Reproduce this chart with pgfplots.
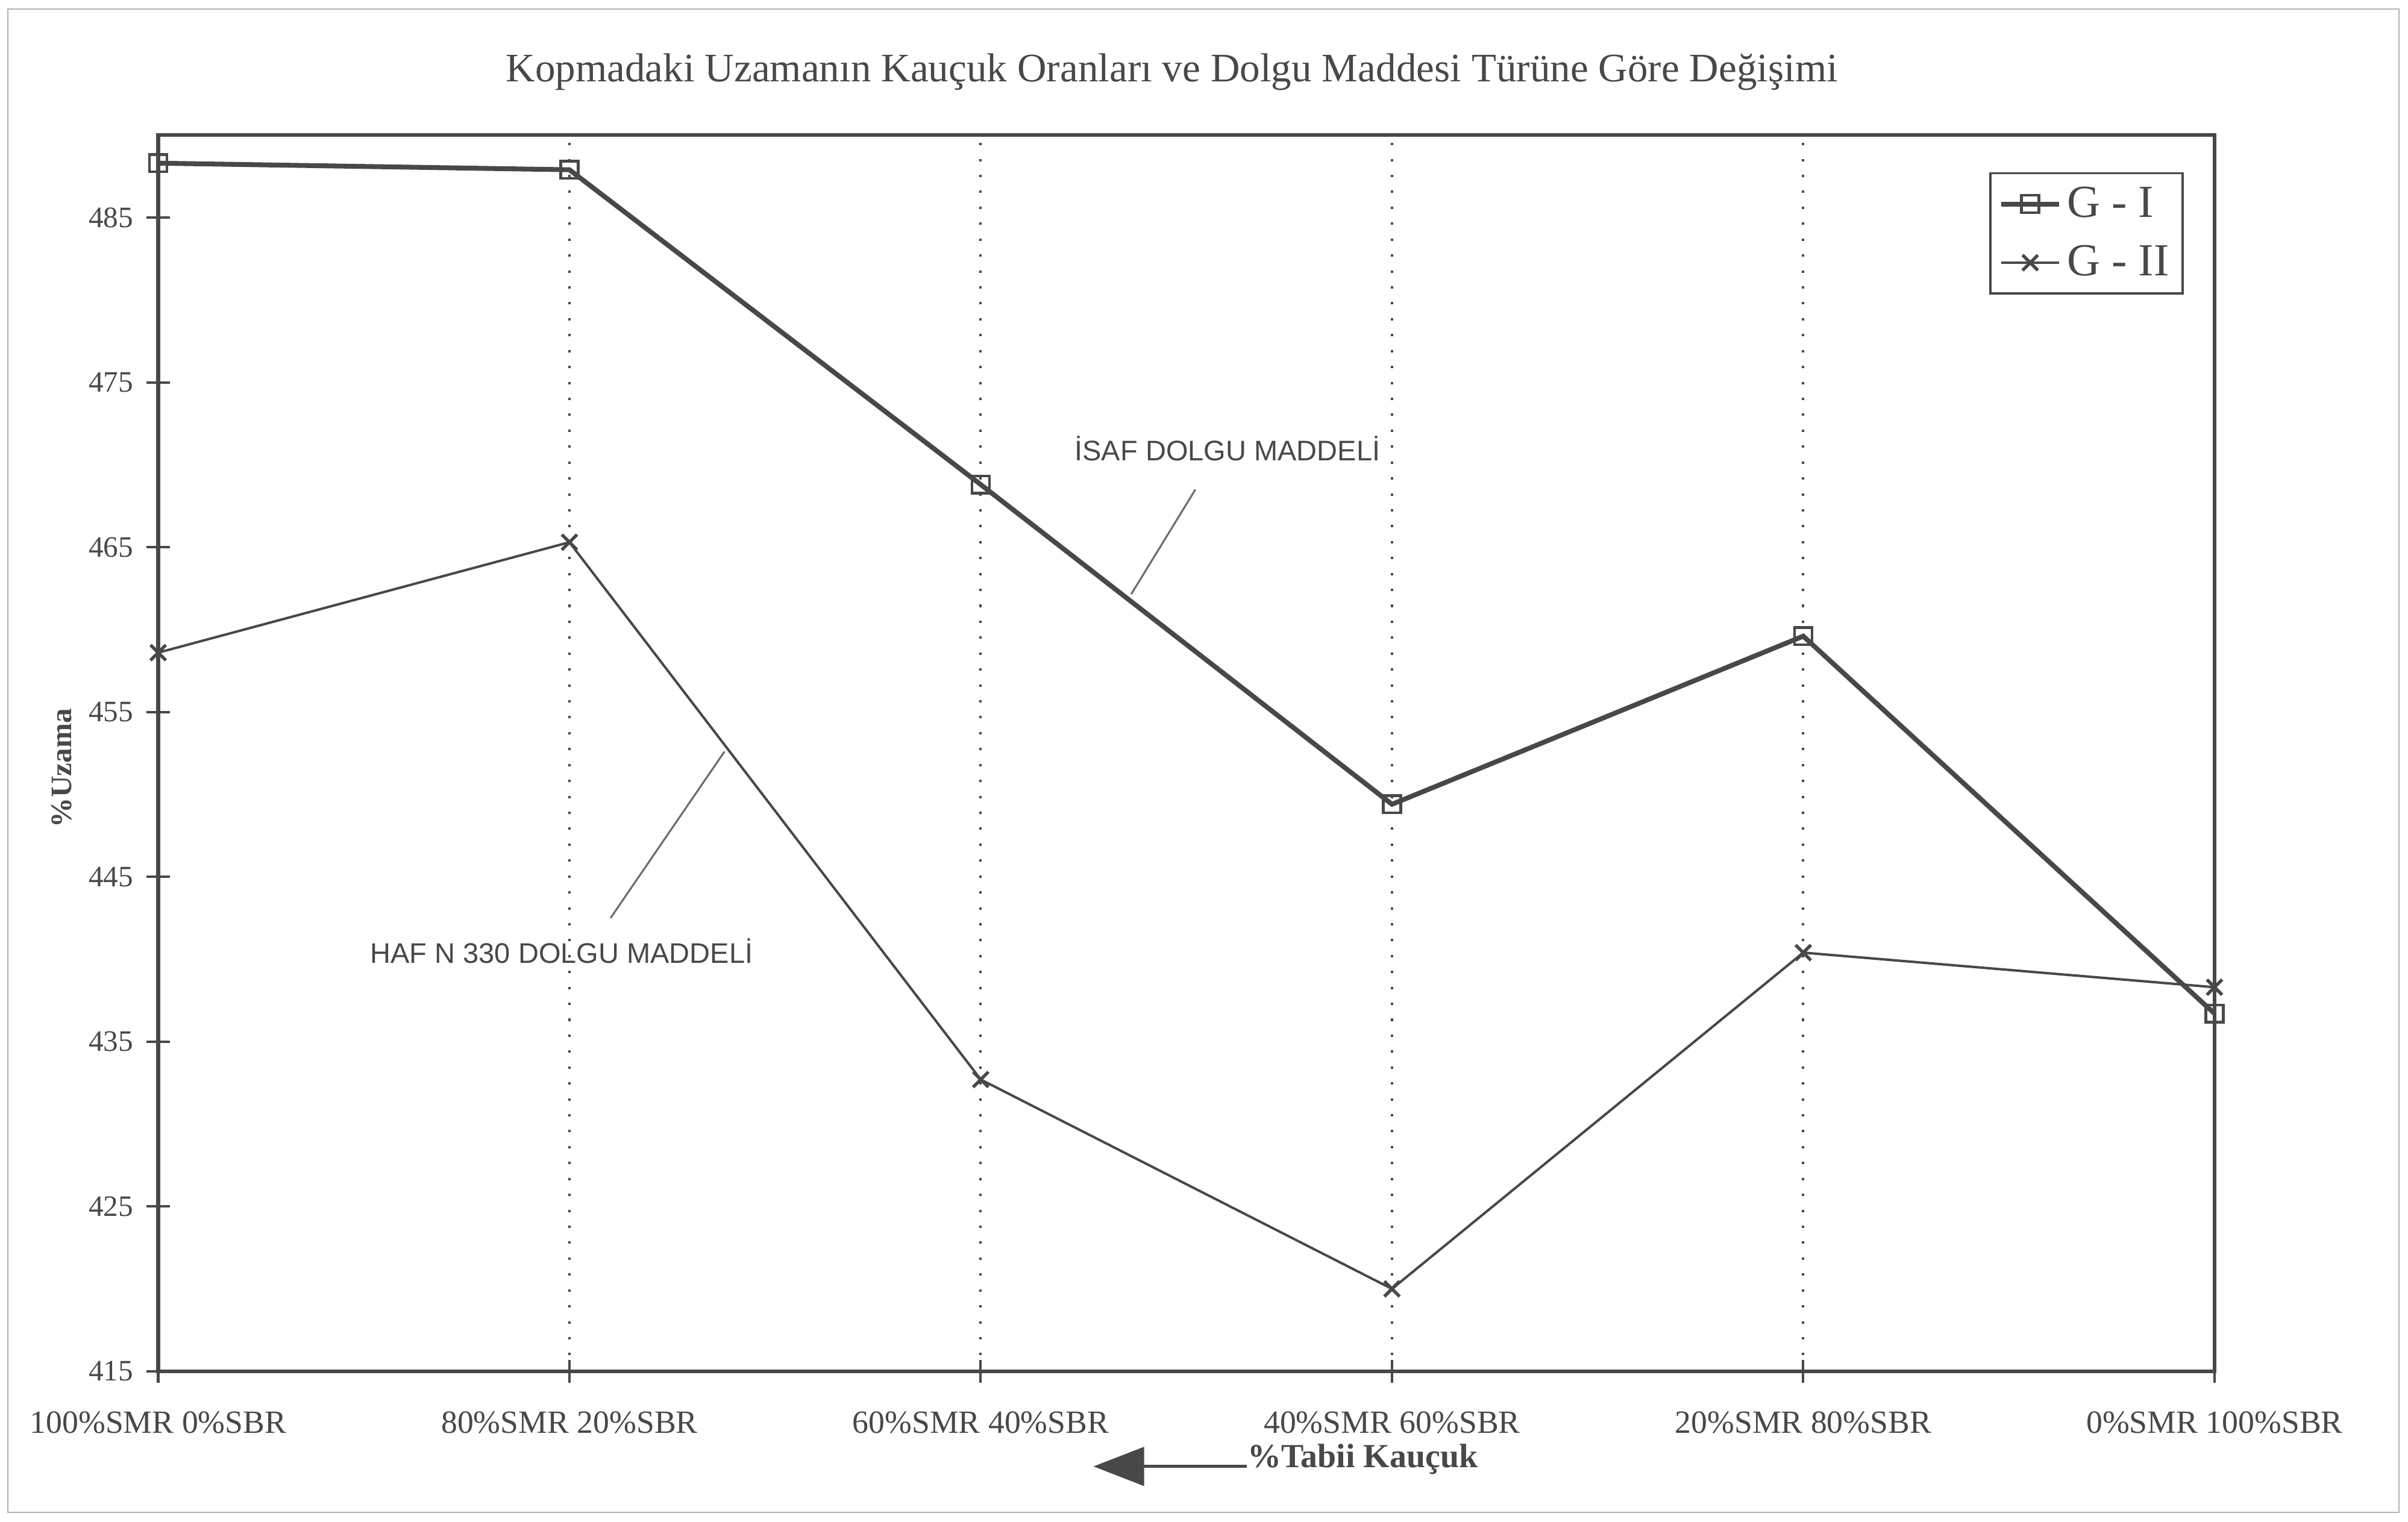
\documentclass[border=0pt]{standalone}
\usepackage{fontspec}
\setmainfont{Liberation Serif}
\newfontfamily\annfont{Liberation Sans}
\usepackage{pgfplots}
\pgfplotsset{compat=1.18}
\usetikzlibrary{arrows.meta}
\definecolor{ink}{HTML}{484848}
\begin{document}
\begin{tikzpicture}
\useasboundingbox (-2.06,-1.96) rectangle (29.3,17.86);
\draw[black!30, line width=0.5pt] (-1.96,-1.84) rectangle (29.18,17.74);
\begin{axis}[
  at={(0,0)}, anchor=south west,
  scale only axis, width=26.78cm, height=16.1cm,
  xmin=0, xmax=5, ymin=415, ymax=490,
  clip=false,
  xtick pos=bottom, ytick pos=left,
  xtick={0,1,2,3,4,5},
  xticklabels={100\%SMR 0\%SBR,80\%SMR 20\%SBR,60\%SMR 40\%SBR,40\%SMR 60\%SBR,20\%SMR 80\%SBR,0\%SMR 100\%SBR},
  ytick={415,425,435,445,455,465,475,485},
  tick align=center, major tick length=0.3cm,
  xmajorgrids,
  grid style={ink, line width=0.9pt, dash pattern=on 0.9pt off 5pt},
  axis line style={ink, line width=1.4pt},
  tick style={ink, line width=0.9pt},
  /pgf/number format/assume math mode=true,
  xticklabel style={font=\fontsize{12}{14}\selectfont, text=ink, yshift=-0.25cm},
  yticklabel style={font=\fontsize{11}{13}\selectfont, text=ink, xshift=-0.05cm},
  legend style={at={(0.985,0.970)}, anchor=north east, draw=ink, line width=0.8pt,
    font=\fontsize{17}{19}\selectfont, text=ink, inner sep=3pt, row sep=5pt},
  legend cell align=left,
  legend image code/.code={\draw[mark repeat=2,mark phase=2,#1] plot coordinates {(0cm,0cm) (0.38cm,0cm) (0.76cm,0cm)};},
]
\addplot[ink, line width=1.8pt, mark=square, mark size=3.2pt, mark options={solid, line width=1pt, fill=white}]
  coordinates {(0,488.3) (1,487.9) (2,468.8) (3,449.4) (4,459.6) (5,436.7)};
\addlegendentry{G - I}
\addplot[ink, line width=0.9pt, mark=x, mark size=4pt, mark options={solid, line width=1.2pt}]
  coordinates {(0,458.6) (1,465.3) (2,432.7) (3,420.0) (4,440.4) (5,438.3)};
\addlegendentry{G - II}

\node[font=\fontsize{15}{18}\selectfont, text=ink] at (rel axis cs:0.493,1.051)
  {Kopmadaki Uzamanın Kauçuk Oranları ve Dolgu Maddesi Türüne Göre Değişimi};
\node[rotate=90, font=\bfseries\fontsize{11}{13}\selectfont, text=ink] at (rel axis cs:-0.047,0.488) {\%Uzama};
\node[anchor=west, inner sep=0pt, font=\bfseries\fontsize{12.5}{15}\selectfont, text=ink] at (rel axis cs:0.5295,-0.071) {\%Tabii Kauçuk};
\draw[ink, line width=1.2pt, -{Triangle[length=0.66cm,width=0.5cm]}] (rel axis cs:0.5295,-0.077) -- (rel axis cs:0.4548,-0.077);

\draw[ink!80, line width=0.7pt] (axis cs:2.366,462.15) -- (axis cs:2.522,468.5);
\draw[ink!80, line width=0.7pt] (axis cs:1.10,442.5) -- (axis cs:1.377,452.6);
\node[font=\annfont\fontsize{10.5}{12}\selectfont, text=ink] at (axis cs:2.60,471.0) {İSAF DOLGU MADDELİ};
\node[font=\annfont\fontsize{10.5}{12}\selectfont, text=ink] at (axis cs:0.981,440.5) {HAF N 330 DOLGU MADDELİ};
\end{axis}
\end{tikzpicture}
\end{document}
